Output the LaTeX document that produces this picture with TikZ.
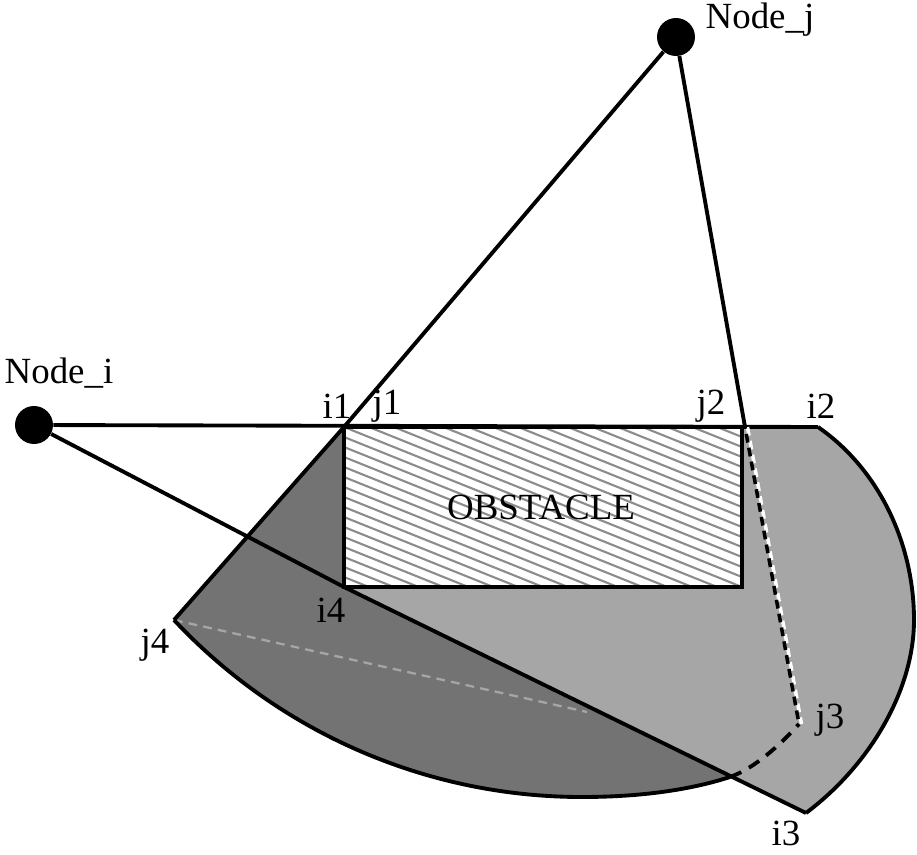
\documentclass[tikz,border=0pt]{standalone}
\usepackage{fontspec}
\setmainfont{Liberation Serif}
\tikzset{
    blackdot/.style={circle,fill=black,inner sep=0pt,minimum size=0.76cm},
    lbl/.style={font=\fontsize{21}{25}\selectfont,inner sep=0pt},
    edge/.style={line width=2.2pt,line join=miter},
}
\definecolor{darkshade}{gray}{0.45}
\definecolor{lightshade}{gray}{0.65}
\definecolor{hatch}{gray}{0.55}
\begin{document}
\begin{tikzpicture}[x=0.02cm,y=-0.02cm]
        \useasboundingbox (0,0) rectangle (917,855);
        \coordinate (i1) at (344,427);
        \coordinate (i2) at (818,427);
        \coordinate (i3) at (806,813);
        \coordinate (i4) at (344,587);
        \coordinate (j2) at (742,427);
        \coordinate (j3) at (799,724);
        \coordinate (j4) at (174,620);
        \coordinate (cross) at (730,777);
        \coordinate (apex) at (745,427);
        \coordinate (corner) at (742,587);
        \coordinate (meet) at (587,712);
        \node[blackdot] (nodei) at (34,425) {};
        \node[blackdot] (nodej) at (676,37) {};

        \fill[lightshade] (i1) -- (i2) .. controls (880,470) and (914,545) .. (914,620)
            .. controls (914,690) and (870,765) .. (i3) -- (cross) -- (i4) -- cycle;
        \fill[darkshade] (i1) -- (j4) .. controls (280,733) and (427,797) .. (582,797)
            .. controls (640,797) and (690,790) .. (cross) -- (i4) -- cycle;
        \fill[white] (i1) rectangle (corner);
        \begin{scope}
            \clip (i1) rectangle (corner);
            \foreach \h in {267,277,...,587}
                \draw[hatch,line width=1.2pt] (344,\h) -- (742,{\h+160});
        \end{scope}

        \draw[lightshade,line width=1.3pt,dash pattern=on 5pt off 3.5pt] (j4) -- (meet);
        \draw[edge] (i1) rectangle (corner);
        \draw[edge] (nodei) -- (i2);
        \draw[edge] (nodei) -- (i4) -- (i3);
        \draw[edge] (nodej) -- (i1) -- (j4);
        \draw[edge] (nodej) -- (apex);
        \draw[edge] (i2) .. controls (880,470) and (914,545) .. (914,620)
            .. controls (914,690) and (870,765) .. (i3);
        \draw[edge] (j4) .. controls (280,733) and (427,797) .. (582,797)
            .. controls (640,797) and (690,790) .. (cross);
        \draw[edge,dash pattern=on 7pt off 5pt] (cross) .. controls (755,768) and (780,745) .. (j3);
        \draw[white,line width=2pt,dash pattern=on 5pt off 3pt] ([xshift=0.05cm]apex) -- ([xshift=0.05cm]j3);
        \draw[line width=2pt,dash pattern=on 5pt off 3pt,dash phase=4pt] (apex) -- (j3);

        \node[lbl] (labeli) at (59,373) {Node\_i};
        \node[lbl] (labelj) at (760,20) {Node\_j};
        \node[lbl] (labeli1) at (337,406) {i1};
        \node[lbl] (labelj1) at (387,406) {j1};
        \node[lbl] (labelj2) at (711,406) {j2};
        \node[lbl] (labeli2) at (821,406) {i2};
        \node[lbl] (labeli4) at (331,610) {i4};
        \node[lbl] (labelj4) at (155,645) {j4};
        \node[lbl] (labelj3) at (830,720) {j3};
        \node[lbl] (labeli3) at (786,833) {i3};
        \node[lbl] (obstacle) at (541,507) {OBSTACLE};
    \end{tikzpicture}
\end{document}
